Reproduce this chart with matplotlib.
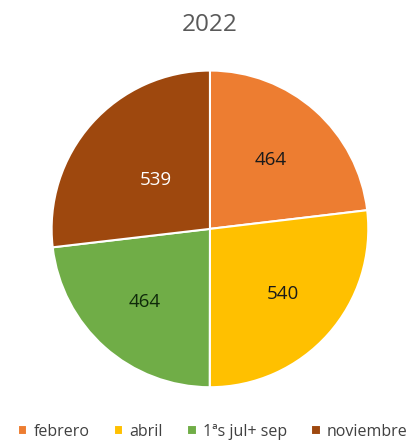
import numpy as np
import matplotlib.pyplot as plt

plt.rcParams['font.family'] = ['Open Sans', 'DejaVu Sans']

# monthly totals, 2022
meses = ["febrero", "abril", "1ªs jul+ sep", "noviembre"]
valores = [464, 540, 464, 539]
colores = ["#ED7D31", "#FFC000", "#70AD47", "#9E480E"]
color_texto = ["#1a1a1a", "#1a1a1a", "#0f2a0a", "#ffffff"]
dist_etiqueta = [0.58, 0.62, 0.62, 0.46]

fig = plt.figure(figsize=(4.17, 4.44), dpi=100)
ax = fig.add_axes([0.120, 0.124, 0.767, 0.721])

wedges, _ = ax.pie(valores, colors=colores, startangle=90, counterclock=False,
                   wedgeprops=dict(edgecolor="white", linewidth=1.5))

for w, v, c, d in zip(wedges, valores, color_texto, dist_etiqueta):
    ang = np.deg2rad((w.theta1 + w.theta2) / 2)
    ax.text(d * np.cos(ang), d * np.sin(ang), str(v), ha="center", va="center",
            fontsize=13.5, color=c)

ax.set_aspect("equal")
ax.set_xlim(-1.01, 1.01)
ax.set_ylim(-1.01, 1.01)

fig.text(0.503, 0.944, "2022", ha="center", va="center", fontsize=17.5, color="#595959")

leg = fig.legend(wedges, meses, loc="center", bbox_to_anchor=(0.51, 0.027), ncol=4,
                 frameon=False, fontsize=11.5, handlelength=0.6, handleheight=0.6,
                 handletextpad=0.4, columnspacing=1.5, labelcolor="#404040",
                 borderpad=0.2)

fig.savefig("out.png", dpi=100)
